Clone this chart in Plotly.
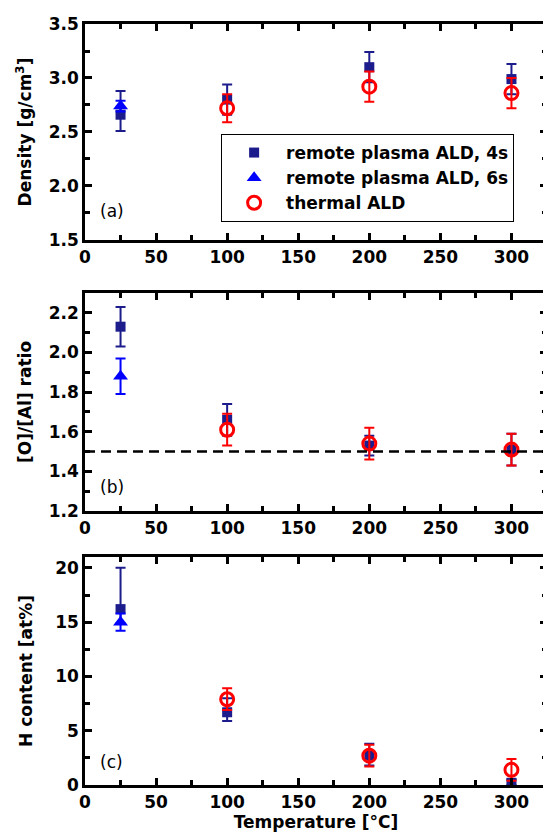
import plotly.graph_objects as go
from plotly.subplots import make_subplots

# ---------------- data ----------------
temp_4s = [25, 100, 200, 300]
temp_6s = [25]
temp_th = [100, 200, 300]

# (a) density [g/cm3]
dens_4s = [2.66, 2.80, 3.10, 2.99]
dens_4s_up = [0.22, 0.14, 0.14, 0.14]
dens_4s_dn = [0.15, 0.14, 0.14, 0.14]
dens_6s = [2.74]
dens_6s_err = [0.05]
dens_th = [2.72, 2.92, 2.86]
dens_th_err = [0.13, 0.14, 0.14]

# (b) [O]/[Al] ratio
oal_4s = [2.13, 1.66, 1.53, 1.51]
oal_4s_err = [0.10, 0.08, 0.05, 0.08]
oal_6s = [1.88]
oal_6s_err = [0.09]
oal_th = [1.61, 1.54, 1.51]
oal_th_err = [0.08, 0.08, 0.08]
stoich_ratio = 1.5

# (c) H content [at%]
h_4s = [16.2, 6.7, 2.7, 0.2]
h_4s_up = [3.8, 1.3, 1.1, 0.3]
h_4s_dn = [1.3, 0.8, 0.9, 0.2]
h_6s = [15.0]
h_6s_err = [0.8]
h_th = [7.9, 2.7, 1.4]
h_th_err = [1.0, 1.0, 1.0]

names = ["remote plasma ALD, 4s", "remote plasma ALD, 6s", "thermal ALD"]
panel_labels = ["(a)", "(b)", "(c)"]
y_titles = ["Density [g/cm<sup>3</sup>]", "[O]/[Al] ratio", "H content [at%]"]
x_title = "Temperature [°C]"

NAVY = "#1c1c8c"
BLUE = "#0000ff"
RED = "#ff0000"
FONT = "DejaVu Sans, Liberation Sans, Arial, sans-serif"

fig = make_subplots(rows=3, cols=1, vertical_spacing=0.05)


def add_panel(row, v4, e4p, e4m, v6, e6, vt, et, show):
    fig.add_trace(go.Scatter(
        x=temp_4s, y=v4, mode="markers", name=names[0], showlegend=show,
        marker=dict(symbol="square", size=10, color=NAVY),
        error_y=dict(type="data", array=e4p, arrayminus=e4m, symmetric=False,
                     color=NAVY, thickness=2, width=5)), row=row, col=1)
    fig.add_trace(go.Scatter(
        x=temp_6s, y=v6, mode="markers", name=names[1], showlegend=show,
        marker=dict(symbol="triangle-up", size=13, color=BLUE),
        error_y=dict(type="data", array=e6, color=BLUE, thickness=2, width=5)),
        row=row, col=1)
    fig.add_trace(go.Scatter(
        x=temp_th, y=vt, mode="markers", name=names[2], showlegend=show,
        marker=dict(symbol="circle-open", size=13, color=RED,
                    line=dict(width=3, color=RED)),
        error_y=dict(type="data", array=et, color=RED, thickness=2, width=5)),
        row=row, col=1)


add_panel(1, dens_4s, dens_4s_up, dens_4s_dn, dens_6s, dens_6s_err, dens_th, dens_th_err, True)
add_panel(2, oal_4s, oal_4s_err, oal_4s_err, oal_6s, oal_6s_err, oal_th, oal_th_err, False)
add_panel(3, h_4s, h_4s_up, h_4s_dn, h_6s, h_6s_err, h_th, h_th_err, False)

fig.add_hline(y=stoich_ratio, row=2, col=1,
              line=dict(color="black", width=2.5, dash="10px,6px"))

tickfont = dict(family=FONT, size=17, color="black", weight="bold")
titlefont = dict(family=FONT, size=17, color="black", weight="bold")
axis_common = dict(showline=True, linecolor="black", linewidth=2.5, mirror="allticks",
                   ticks="inside", ticklen=7, tickwidth=2.5, tickcolor="black",
                   showgrid=False, zeroline=False, tickfont=tickfont)

y_ranges = [[1.5, 3.5], [1.2, 2.3], [0, 21]]
y_dticks = [0.5, 0.2, 5]
y_formats = [".1f", ".1f", "d"]
y_standoff = [13, 13, 19]
domains = [[0.7162, 1.0], [0.3601, 0.6465], [0.0, 0.2996]]

for i in range(3):
    r = i + 1
    fig.update_xaxes(range=[0, 325], dtick=50, tick0=0,
                     minor=dict(dtick=25, ticks="inside", ticklen=5, tickwidth=2.5, tickcolor="black"),
                     row=r, col=1, **axis_common)
    fig.update_yaxes(range=y_ranges[i], dtick=y_dticks[i], tick0=0, tickformat=y_formats[i],
                     minor=dict(dtick=y_dticks[i] / 2, ticks="inside", ticklen=5, tickwidth=2.5,
                                tickcolor="black"),
                     domain=domains[i],
                     title=dict(text=y_titles[i], font=titlefont, standoff=y_standoff[i]),
                     row=r, col=1, **axis_common)

fig.update_xaxes(title=dict(text=x_title, font=titlefont, standoff=2), row=3, col=1)

label_y = [1.77, 1.32, 2.15]
for i in range(3):
    xref = "x" if i == 0 else f"x{i+1}"
    yref = "y" if i == 0 else f"y{i+1}"
    fig.add_annotation(x=9, y=label_y[i], xref=xref, yref=yref, text=panel_labels[i],
                       showarrow=False, xanchor="left", yanchor="middle",
                       font=dict(family=FONT, size=17, color="black"))

fig.update_layout(
    width=543, height=824,
    margin=dict(l=77, r=1, t=16, b=47),
    paper_bgcolor="white", plot_bgcolor="white",
    showlegend=True,
    legend=dict(x=(222 - 85) / 465, y=(785 - 134) / 761, xanchor="left", yanchor="top",
                bordercolor="black", borderwidth=1, bgcolor="white",
                font=dict(family=FONT, size=17, color="black", weight="bold"),
                itemwidth=54, tracegroupgap=0),
)

fig.write_html("out.html")
